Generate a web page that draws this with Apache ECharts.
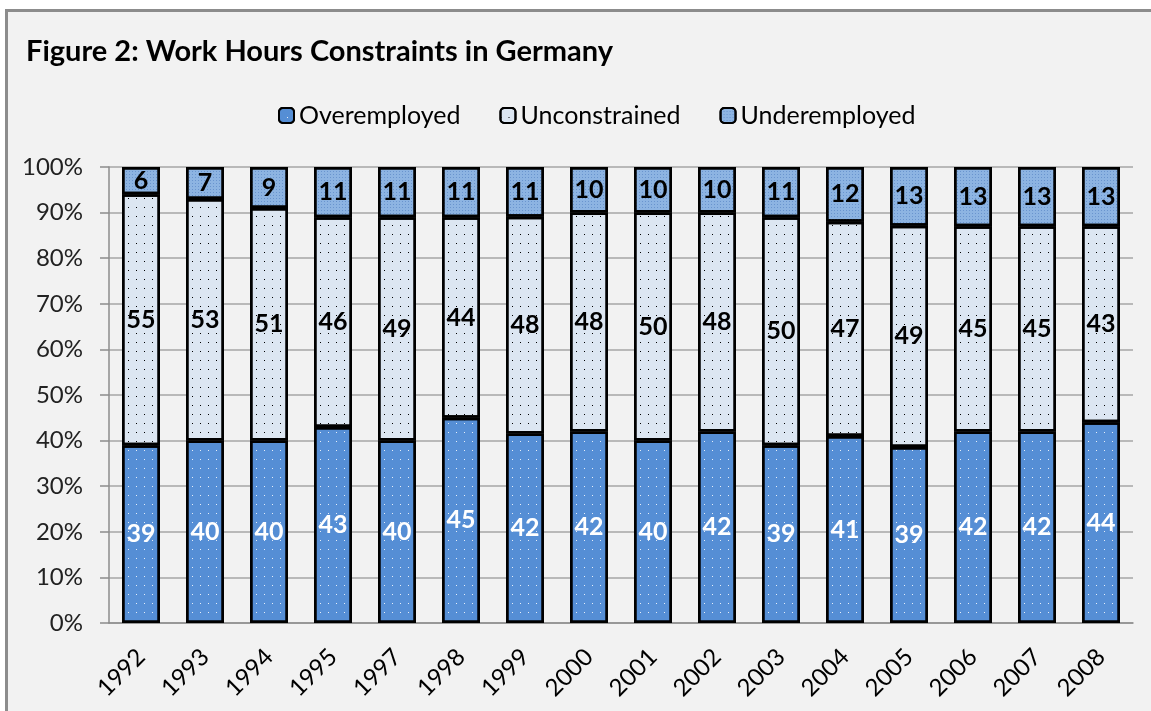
<!DOCTYPE html>
<html>
<head>
<meta charset="utf-8">
<script src="https://cdn.jsdelivr.net/npm/echarts@6/dist/echarts.min.js"></script>
<style>
  html, body { margin: 0; padding: 0; background: #fff; }
  #box { position: absolute; left: 5px; top: 9px; width: 1200px; height: 800px;
         background: #f2f2f2; border-top: 3px solid #8c8c8c; border-left: 3px solid #8c8c8c; }
  #chart { position: absolute; left: 0; top: 0; width: 1151px; height: 711px; }
</style>
</head>
<body>
<div id="box"></div>
<div id="chart"></div>
<script>
const years = ['1992', '1993', '1994', '1995', '1997', '1998', '1999', '2000',
  '2001', '2002', '2003', '2004', '2005', '2006', '2007', '2008'];
const overemployed = [39, 40, 40, 43, 40, 45, 42, 42, 40, 42, 39, 41, 39, 42, 42, 44];
const unconstrained = [55, 53, 51, 46, 49, 44, 48, 48, 50, 48, 50, 47, 49, 45, 45, 43];
const underemployed = [6, 7, 9, 11, 11, 11, 11, 10, 10, 10, 11, 12, 13, 13, 13, 13];

// 100% stacked: normalize each year's values to its total
const totals = years.map((y, i) => overemployed[i] + unconstrained[i] + underemployed[i]);
const share = arr => arr.map((v, i) => v / totals[i] * 100);

const myChart = echarts.init(document.getElementById('chart'));
const font = 'Lato';

function barSeries(name, raw, fill, labelColor, decal) {
  return {
    name: name,
    type: 'bar',
    stack: 'total',
    barWidth: 38,
    data: share(raw),
    itemStyle: { color: fill, borderColor: '#000', borderWidth: 2.5, decal: decal },
    label: {
      show: true,
      position: 'inside',
      color: labelColor,
      fontFamily: font,
      fontWeight: 'bold',
      fontSize: 25,
      formatter: p => raw[p.dataIndex]
    }
  };
}

const option = {
  backgroundColor: 'transparent',
  animation: false,
  title: {
    text: 'Figure 2: Work Hours Constraints in Germany',
    left: 21,
    top: 32,
    textStyle: { fontFamily: font, fontWeight: 'bold', fontSize: 29, color: '#000' }
  },
  legend: {
    top: 98,
    left: 273,
    itemWidth: 15,
    itemHeight: 15,
    itemGap: 39,
    textStyle: { fontFamily: font, fontSize: 25, color: '#000' },
    data: ['Overemployed', 'Unconstrained', 'Underemployed']
  },
  grid: { left: 109, right: 18, top: 167, bottom: 88 },
  xAxis: {
    type: 'category',
    data: years,
    axisLine: { lineStyle: { color: '#8c8c8c', width: 1.5 } },
    axisTick: { length: 8, lineStyle: { color: '#8c8c8c', width: 1.5 } },
    axisLabel: { rotate: 45, margin: 30, fontFamily: font, fontSize: 24, color: '#000' }
  },
  yAxis: {
    type: 'value',
    min: 0,
    max: 100,
    interval: 10,
    axisLine: { show: true, lineStyle: { color: '#8c8c8c', width: 1.5 } },
    axisTick: { show: true, length: 9, lineStyle: { color: '#8c8c8c', width: 1.5 } },
    axisLabel: { formatter: '{value}%', margin: 26, fontFamily: font, fontSize: 24, color: '#222' },
    splitLine: { lineStyle: { color: '#a6a6a6', width: 1.5 } }
  },
  series: [
    barSeries('Overemployed', overemployed, '#558ed5', '#fff',
      { symbol: 'rect', symbolSize: 1, color: 'rgba(255,255,255,0.85)', dashArrayX: [1, 7], dashArrayY: [1, 8] }),
    barSeries('Unconstrained', unconstrained, '#dce6f2', '#000',
      { symbol: 'rect', symbolSize: 1, color: '#000', dashArrayX: [1, 7], dashArrayY: [1, 8] }),
    barSeries('Underemployed', underemployed, '#8db4e2', '#000',
      { symbol: 'rect', symbolSize: 1, color: 'rgba(70,115,185,0.5)', dashArrayX: [1, 2], dashArrayY: [1, 2] })
  ]
};
myChart.setOption(option);
</script>
</body>
</html>
